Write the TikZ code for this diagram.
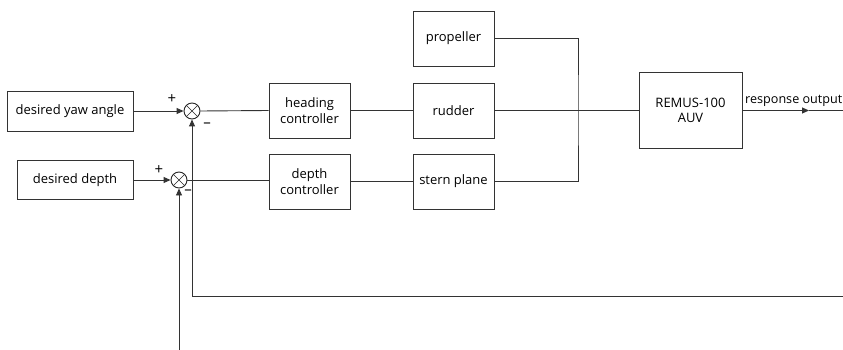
\documentclass[tikz,border=0pt]{standalone}
\usepackage{fontspec}
\setmainfont{Open Sans}
\usetikzlibrary{arrows.meta}
\begin{document}
\begin{tikzpicture}[x=1pt,y=-1pt,
  blk/.style={draw=black!80, line width=0.9pt, align=center, inner sep=0pt,
    font=\fontsize{13}{15.5}\selectfont},
  sumnode/.style={draw=black!85, line width=0.9pt, circle, minimum size=16pt, inner sep=0pt,
    path picture={\draw[line width=0.6pt,black!85] (path picture bounding box.north west)--(path picture bounding box.south east)
      (path picture bounding box.north east)--(path picture bounding box.south west);}},
  ln/.style={line width=0.9pt, draw=black!80},
  arr/.style={ln, -{Triangle[length=7pt,width=6pt]}},
  sgn/.style={font=\fontsize{15}{16}\selectfont, inner sep=0pt}
]
\useasboundingbox (0,0) rectangle (843,350);

\node[blk, minimum width=126pt, minimum height=40pt] (yaw) at (70,111) {desired yaw angle};
\node[blk, minimum width=116pt, minimum height=39pt] (dep) at (75,180) {desired depth};
\node[sumnode] (s1) at (192,111) {};
\node[sumnode] (s2) at (179,180) {};
\node[blk, minimum width=81pt, minimum height=55pt] (hc) at (309.5,110.5) {heading\\controller};
\node[blk, minimum width=81pt, minimum height=55pt] (dc) at (309.5,181.5) {depth\\controller};
\node[blk, minimum width=81pt, minimum height=55pt] (prop) at (453.5,38.5) {propeller};
\node[blk, minimum width=81pt, minimum height=55pt] (rud) at (453.5,110.5) {rudder};
\node[blk, minimum width=81pt, minimum height=55pt] (stern) at (453.5,181.5) {stern plane};
\node[blk, minimum width=103pt, minimum height=76pt] (auv) at (690.5,110.5) {REMUS-100\\AUV};

\node[sgn] (p1) at (172,99) {+};
\node[sgn] (m1) at (207,125) {\textendash};
\node[sgn] (p2) at (159,170) {+};
\node[sgn] (m2) at (188,192) {\textendash};
\node[anchor=west, inner sep=0pt, font=\fontsize{12.6}{15}\selectfont] (resp) at (745,101) {response output};

\coordinate (jn) at (578,110.5);
\coordinate (outm) at (809,110.5);
\coordinate (outr) at (843,110.5);
\coordinate (fbR) at (843,296);
\coordinate (fbB) at (179,350);

\draw[arr] (yaw.east) -- (s1.west);
\draw[arr] (dep.east) -- (s2.west);
\draw[ln] (s1.east) -- (hc.west);
\draw[ln] (hc.east) -- (rud.west);
\draw[ln] (rud.east) -- (auv.west);
\draw[ln] (s2.east) -- (hc.west |- s2.east);
\draw[ln] (dc.east) -- (stern.west);
\draw[ln] (prop.east) -| (jn) |- (stern.east);
\draw[arr] (auv.east) -- (outm);
\draw[ln] (outm) -- (outr);
\draw[arr] (fbR) -| (s1.south);
\draw[arr] (fbB) -- (s2.south);
\end{tikzpicture}
\end{document}
